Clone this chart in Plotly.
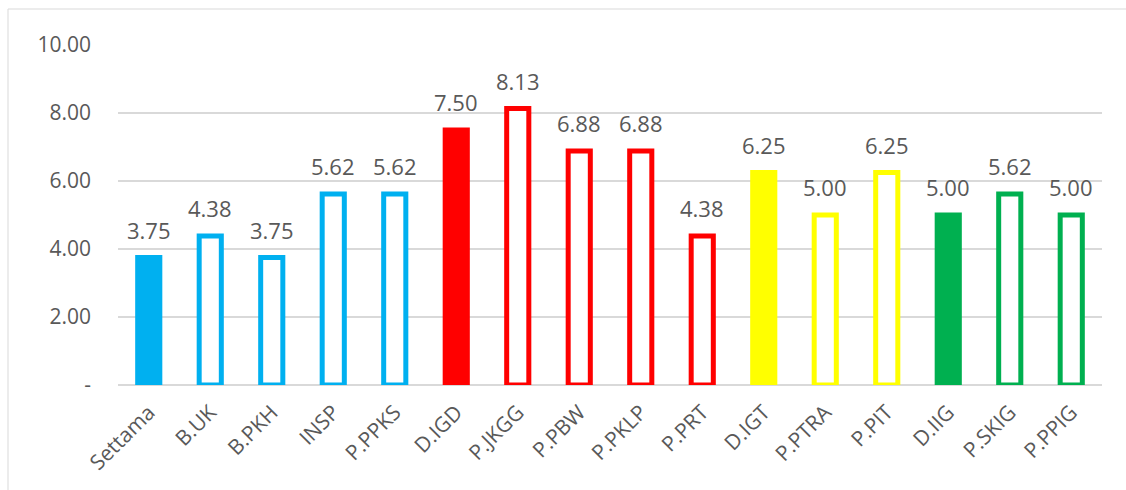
import plotly.graph_objects as go

# Scores per unit
categories = ["Settama", "B.UK", "B.PKH", "INSP", "P.PPKS", "D.IGD", "P.JKGG", "P.PBW",
              "P.PKLP", "P.PRT", "D.IGT", "P.PTRA", "P.PIT", "D.IIG", "P.SKIG", "P.PPIG"]
values = [3.75, 4.38, 3.75, 5.62, 5.62, 7.50, 8.13, 6.88, 6.88, 4.38, 6.25, 5.00, 6.25, 5.00, 5.62, 5.00]
labels = ["3.75", "4.38", "3.75", "5.62", "5.62", "7.50", "8.13", "6.88",
          "6.88", "4.38", "6.25", "5.00", "6.25", "5.00", "5.62", "5.00"]
groups = ["blue"] * 5 + ["red"] * 5 + ["yellow"] * 3 + ["green"] * 3
filled = [True, False, False, False, False, True, False, False, False, False,
          True, False, False, True, False, False]

y_ticks = [0, 2, 4, 6, 8, 10]
y_tick_text = ["-", "2.00", "4.00", "6.00", "8.00", "10.00"]

palette = {"blue": "#00B0F0", "red": "#FF0000", "yellow": "#FFFF00", "green": "#00B050"}

W, H = 1126, 490
ML, MR, MT, MB = 118, 24, 45, 105
FONT = "Open Sans"
TXT = "#595959"

line_colors = [palette[g] for g in groups]
fill_colors = [palette[g] if f else "#FFFFFF" for g, f in zip(groups, filled)]

fig = go.Figure()
fig.add_trace(go.Bar(
    x=categories, y=values, width=0.36,
    marker=dict(color=fill_colors, line=dict(color=line_colors, width=5)),
    hoverinfo="x+y", showlegend=False,
))

# Value labels above each bar
for c, v, t in zip(categories, values, labels):
    fig.add_annotation(x=c, y=v, text=t, showarrow=False, yanchor="middle", yshift=28,
                       font=dict(family=FONT, size=22, color=TXT))

# Chart frame
plot_w, plot_h = W - ML - MR, H - MT - MB
fig.add_shape(type="rect", xref="paper", yref="paper",
              x0=(8 - ML) / plot_w, x1=(W + 10 - ML) / plot_w,
              y0=(H - MB - (H + 10)) / plot_h, y1=(H - MB - 9) / plot_h,
              line=dict(color="#D9D9D9", width=1), fillcolor="rgba(0,0,0,0)", layer="below")

fig.update_layout(
    width=W, height=H,
    margin=dict(l=ML, r=MR, t=MT, b=MB),
    paper_bgcolor="white", plot_bgcolor="white",
    bargap=0.6,
    font=dict(family=FONT, color=TXT),
    xaxis=dict(
        tickangle=-45, tickfont=dict(family=FONT, size=21, color=TXT),
        showgrid=False, showline=False, zeroline=False, ticks="",
        ticklabelstandoff=10,
    ),
    yaxis=dict(
        range=[0, 10], tickvals=y_ticks, ticktext=y_tick_text,
        tickfont=dict(family=FONT, size=21, color=TXT),
        showgrid=True, gridcolor="#D9D9D9", gridwidth=1.5,
        zeroline=True, zerolinecolor="#D9D9D9", zerolinewidth=1.5,
        showline=False, ticks="", ticklabelstandoff=26,
    ),
)

fig.write_html("out.html")
